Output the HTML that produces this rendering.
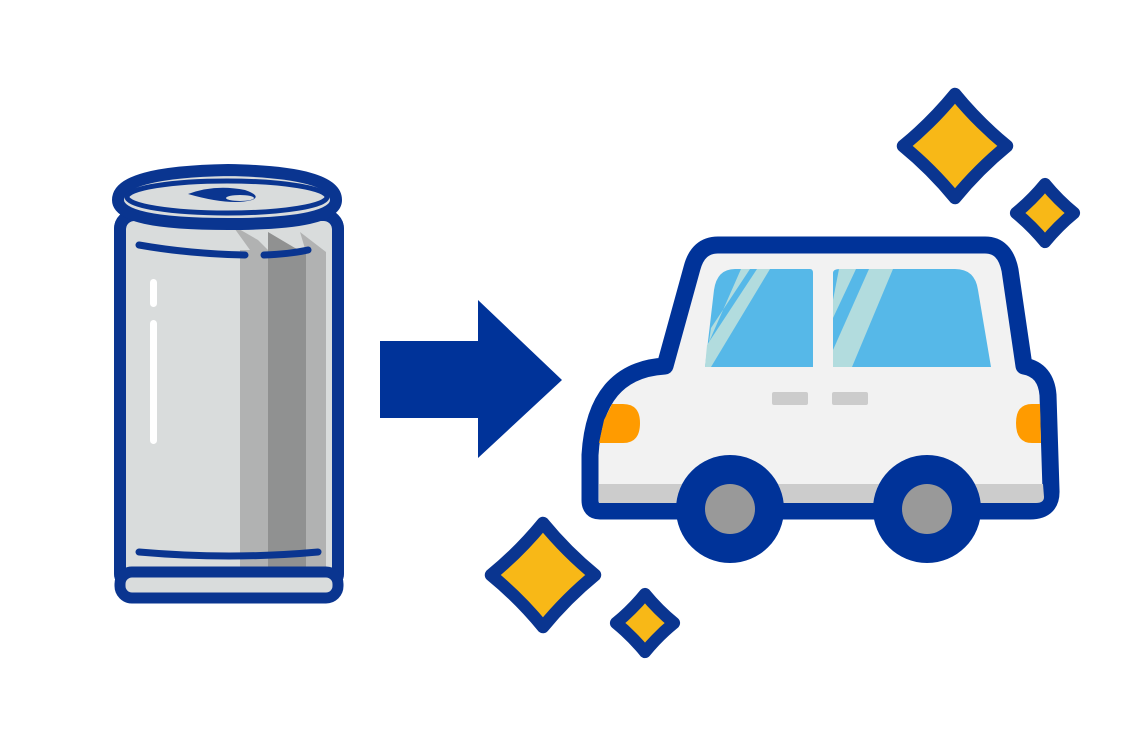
<!DOCTYPE html>
<html><head><meta charset="utf-8"><style>html,body{margin:0;padding:0;background:#fff}svg{display:block}</style></head>
<body>
<svg width="1121" height="747" viewBox="0 0 1121 747" xmlns="http://www.w3.org/2000/svg">
<defs>
<path id="sp" d="M0,-1 Q0.45,-0.45 1,0 Q0.45,0.45 0,1 Q-0.45,0.45 -1,0 Q-0.45,-0.45 0,-1 Z"/>
</defs>
<!-- Can -->
<g stroke-linejoin="round">
<rect x="120" y="215" width="218" height="372" rx="14" fill="#d9dcdc" stroke="#0a3590" stroke-width="12"/>
<path d="M232,225 L250,250 L240,250 L240,578 L268,578 L268,250 L258,240 Z" fill="#b1b2b2"/>
<path d="M268,232 L295,248 L306,252 L306,578 L268,578 Z" fill="#909191"/>
<path d="M300,232 L326,252 L326,578 L306,578 L306,252 Z" fill="#b1b2b2"/>
<rect x="120" y="215" width="218" height="372" rx="14" fill="none" stroke="#0a3590" stroke-width="12"/>
<path d="M139,245 Q190,254 245,255" stroke="#0a3590" stroke-width="7" fill="none" stroke-linecap="round"/>
<path d="M264,255 Q290,254 308,250" stroke="#0a3590" stroke-width="7" fill="none" stroke-linecap="round"/>
<path d="M139,552 Q230,560 318,552" stroke="#0a3590" stroke-width="7" fill="none" stroke-linecap="round"/>
<rect x="150" y="279" width="7" height="28" rx="3.5" fill="#fff"/>
<rect x="150" y="320" width="7" height="124" rx="3.5" fill="#fff"/>
<rect x="120" y="572" width="218" height="26" rx="12" fill="#d9dcdc" stroke="#0a3590" stroke-width="11"/>
<path d="M118,200 Q118,172 228,170 Q336,172 336,200 Q336,224 228,224 Q118,224 118,200 Z" fill="#d9dcdc" stroke="#0a3590" stroke-width="12"/>
<ellipse cx="227" cy="197" rx="100" ry="16" fill="#d9dcdc" stroke="#0a3590" stroke-width="5"/>
<path d="M188,194 Q215,184 245,190 Q262,196 252,200 Q230,206 188,194 Z" fill="#0a3590"/>
<ellipse cx="240" cy="198" rx="14" ry="3" fill="#d9dcdc"/>
</g>
<!-- Arrow -->
<polygon points="380,341 478,341 478,300 562,380 478,458 478,418 380,418" fill="#003399"/>
<!-- Car -->
<g stroke-linejoin="round">
<path d="M718,245 L985,245 Q1005,245 1010,270 L1024,366 Q1046,370 1048,395 L1051,490 Q1052,511 1030,511 L600,511 Q590,511 590,500 L590,455 Q595,370 665,366 L692,268 Q698,245 718,245 Z" fill="#f2f2f2" stroke="#003399" stroke-width="17"/>
<path d="M599,484 L1043,484 L1044,497 Q1044,503 1036,503 L599,503 Z" fill="#cccccc"/>
<path d="M720,269 L810,269 Q813,269 813,273 L813,367 L705,367 L714,290 Q717,269 735,269 Z" fill="#56b8e8"/>
<path d="M741,269 L750,269 L711,328 L709,342 Z" fill="#b2dcde"/>
<path d="M757,269 L770,269 L711,367 L705,367 L707,345 Z" fill="#b2dcde"/>
<path d="M833,273 Q833,269 840,269 L955,269 Q975,269 978,290 L991,367 L833,367 Z" fill="#56b8e8"/>
<path d="M839,269 L856,269 L833,318 L833,300 Z" fill="#b2dcde"/>
<path d="M869,269 L893,269 L852,367 L833,367 L833,350 Z" fill="#b2dcde"/>
<rect x="772" y="392" width="36" height="13" rx="2" fill="#cccccc"/>
<rect x="832" y="392" width="36" height="13" rx="2" fill="#cccccc"/>
<path d="M612,404 L623,404 Q640,404 640,423 Q640,443 623,443 L599,443 L604,420 Z" fill="#ff9b00"/>
<path d="M1040,404 L1032,404 Q1016,404 1016,423 Q1016,443 1032,443 L1041,443 Z" fill="#ff9b00"/>
<circle cx="730" cy="509" r="54" fill="#003399"/>
<circle cx="730" cy="509" r="25" fill="#999999"/>
<circle cx="927" cy="509" r="54" fill="#003399"/>
<circle cx="927" cy="509" r="25" fill="#999999"/>
</g>
<!-- Sparkles -->
<g fill="#f8b817" stroke="#0a3590" stroke-linejoin="round">
<use href="#sp" transform="translate(955,146) scale(52)" stroke-width="0.24"/>
<use href="#sp" transform="translate(1045,213) scale(29)" stroke-width="0.42"/>
<use href="#sp" transform="translate(543,575) scale(52)" stroke-width="0.24"/>
<use href="#sp" transform="translate(645,623) scale(29)" stroke-width="0.42"/>
</g>
</svg>
</body></html>
